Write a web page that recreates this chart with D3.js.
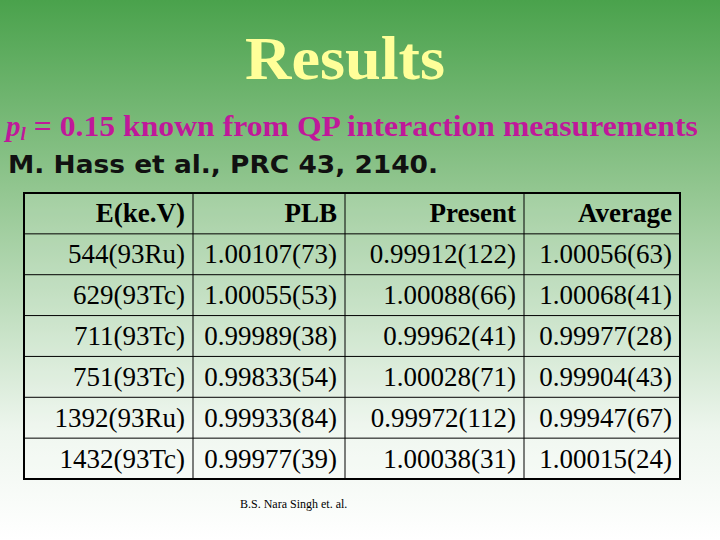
<!DOCTYPE html>
<html><head><meta charset="utf-8">
<script src="https://cdn.jsdelivr.net/npm/d3@7"></script>
<style>body{margin:0}svg{display:block}</style>
</head><body>
<script>
var columns = ["E(ke.V)", "PLB", "Present", "Average"];
var energies = ["544(93Ru)", "629(93Tc)", "711(93Tc)", "751(93Tc)", "1392(93Ru)", "1432(93Tc)"];
var plb = ["1.00107(73)", "1.00055(53)", "0.99989(38)", "0.99833(54)", "0.99933(84)", "0.99977(39)"];
var present = ["0.99912(122)", "1.00088(66)", "0.99962(41)", "1.00028(71)", "0.99972(112)", "1.00038(31)"];
var average = ["1.00056(63)", "1.00068(41)", "0.99977(28)", "0.99904(43)", "0.99947(67)", "1.00015(24)"];

var W = 720, H = 540;
var svg = d3.select("body").append("svg").attr("width", W).attr("height", H);

var grad = svg.append("defs").append("linearGradient").attr("id", "bg")
    .attr("x1", 0).attr("y1", 0).attr("x2", 0).attr("y2", 1);
grad.append("stop").attr("offset", "0%").attr("stop-color", "#4aa24c");
grad.append("stop").attr("offset", "35%").attr("stop-color", "#92c690");
grad.append("stop").attr("offset", "80%").attr("stop-color", "#eef6ee");
grad.append("stop").attr("offset", "100%").attr("stop-color", "#ffffff");
svg.append("rect").attr("width", W).attr("height", H).attr("fill", "url(#bg)");

svg.append("text").attr("x", 245).attr("y", 79)
    .attr("font-family", "Liberation Serif").attr("font-weight", "bold").attr("font-size", 62)
    .attr("textLength", 200).attr("lengthAdjust", "spacingAndGlyphs")
    .attr("fill", "#ffff99").text("Results");

var l1 = svg.append("text").attr("x", 6).attr("y", 136)
    .attr("font-family", "Liberation Serif").attr("font-weight", "bold").attr("font-size", 29)
    .attr("fill", "#c0189a");
l1.append("tspan").attr("font-style", "italic").text("p");
l1.append("tspan").attr("font-style", "italic").attr("font-size", 19).attr("dy", 4).text("l");
l1.append("tspan").attr("dy", -4).attr("textLength", 672).attr("lengthAdjust", "spacingAndGlyphs")
    .text(" = 0.15 known from QP interaction measurements");

svg.append("text").attr("x", 8).attr("y", 173)
    .attr("font-family", "DejaVu Sans").attr("font-weight", "bold").attr("font-size", 25)
    .attr("textLength", 430).attr("lengthAdjust", "spacingAndGlyphs")
    .attr("fill", "#111").text("M. Hass et al., PRC 43, 2140.");

var rows = energies.map(function(e, i) { return [e, plb[i], present[i], average[i]]; });
var edges = [24, 193, 345, 524, 680];
var y = d3.scaleLinear().domain([0, rows.length + 1]).range([193, 479]);
var t = svg.append("g");

t.append("rect").attr("x", edges[0]).attr("y", y(0)).attr("width", edges[4] - edges[0])
    .attr("height", y(rows.length + 1) - y(0)).attr("fill", "#ffffff").attr("fill-opacity", 0.15);

d3.range(1, rows.length + 1).forEach(function(r) {
    t.append("line").attr("x1", edges[0]).attr("x2", edges[4]).attr("y1", y(r)).attr("y2", y(r))
        .attr("stroke", "#000").attr("stroke-width", 1);
});
edges.slice(1, 4).forEach(function(x) {
    t.append("line").attr("x1", x).attr("x2", x).attr("y1", y(0)).attr("y2", y(rows.length + 1))
        .attr("stroke", "#000").attr("stroke-width", 1);
});
t.append("rect").attr("x", edges[0]).attr("y", y(0)).attr("width", edges[4] - edges[0])
    .attr("height", y(rows.length + 1) - y(0)).attr("fill", "none").attr("stroke", "#000").attr("stroke-width", 2);

[columns].concat(rows).forEach(function(row, r) {
    row.forEach(function(v, c) {
        t.append("text").attr("x", edges[c + 1] - 8).attr("y", y(r + 0.5) + 9)
            .attr("text-anchor", "end").attr("font-family", "Liberation Serif")
            .attr("font-size", 27).attr("font-weight", r === 0 ? "bold" : "normal")
            .attr("fill", "#000").text(v);
    });
});

svg.append("text").attr("x", 240).attr("y", 508).attr("font-family", "Liberation Serif")
    .attr("font-size", 12).attr("fill", "#000").text("B.S. Nara Singh  et. al.");
</script>
</body></html>
